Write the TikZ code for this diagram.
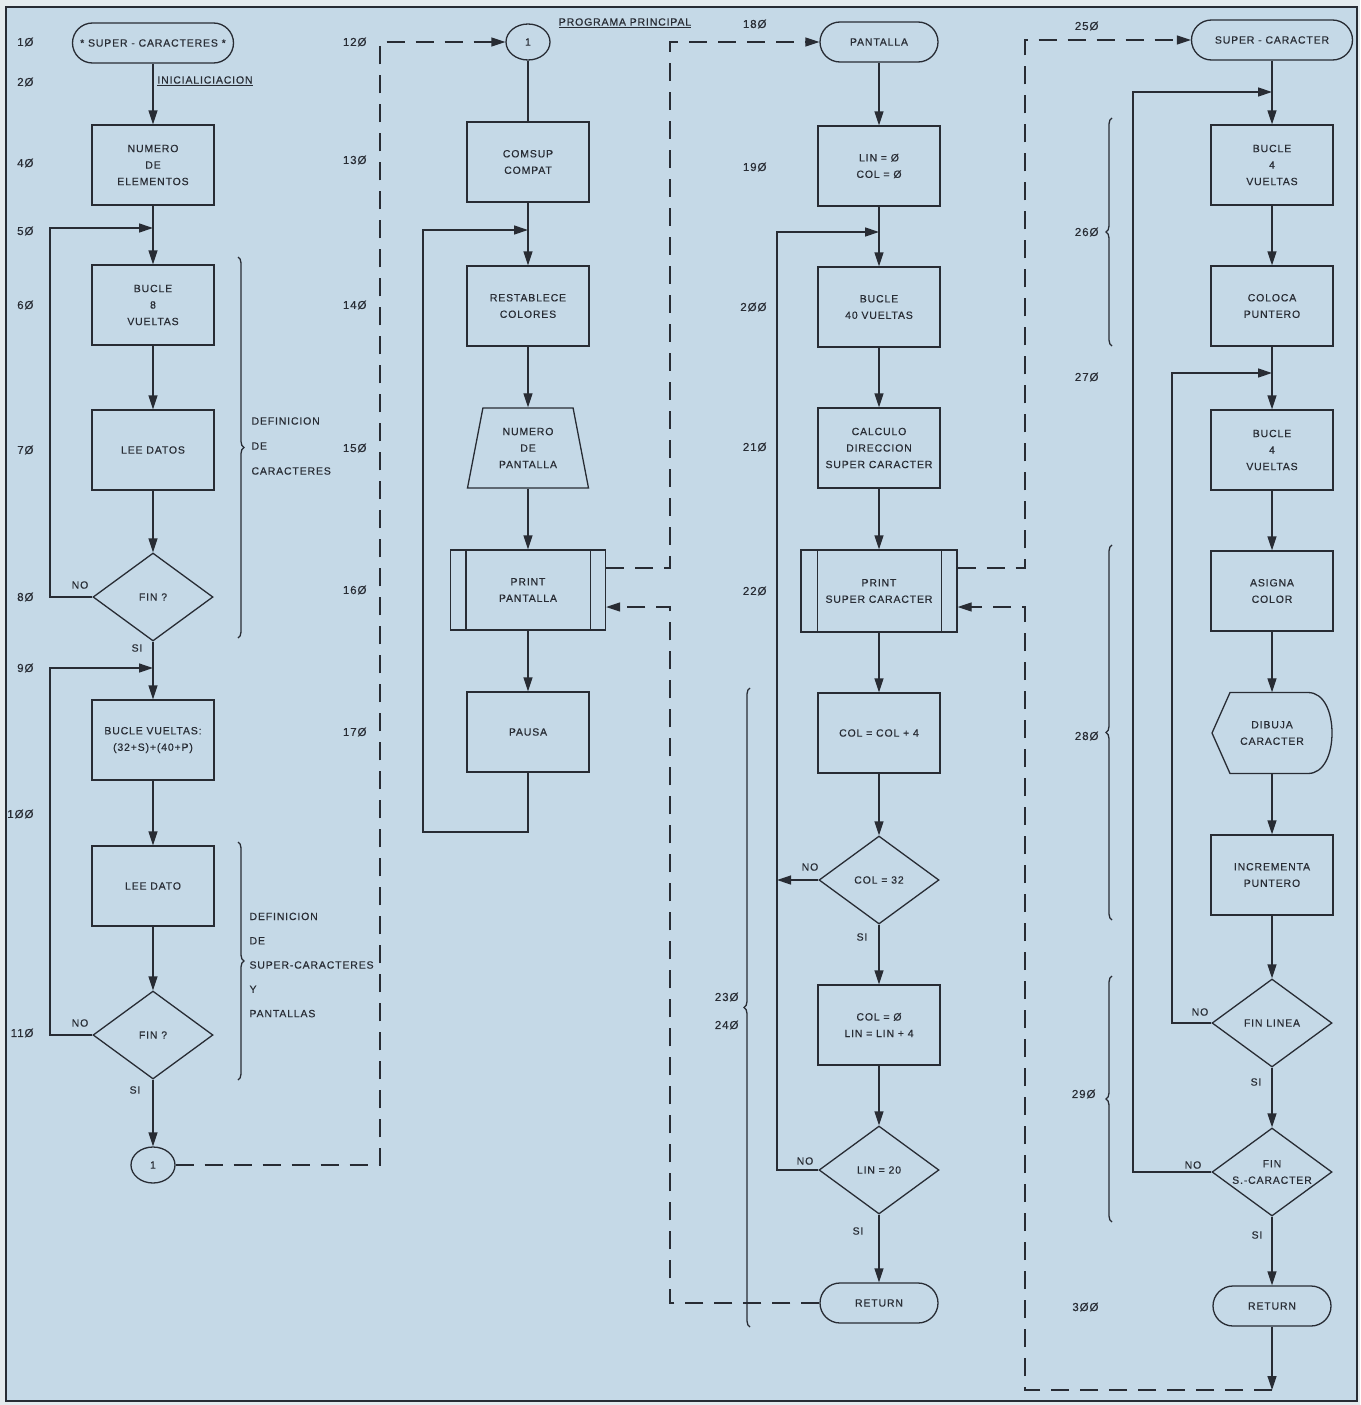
\documentclass[tikz,border=0pt]{standalone}
\usepackage{fontspec}
\setmainfont[LetterSpace=8, FakeBold=0.35]{Liberation Sans}
\usetikzlibrary{shapes.geometric,shapes.misc,arrows.meta,decorations.pathreplacing}
\definecolor{papel}{RGB}{197,217,231}
\definecolor{margen}{RGB}{228,235,238}
\definecolor{tinta}{RGB}{40,44,52}

\begin{document}
\begin{tikzpicture}[
        x=1pt, y=-1pt,
        every node/.style = {text=tinta, font=\fontsize{10.5}{16.5}\selectfont},
        caja/.style = {
            draw = tinta, line width = 1.3pt, rectangle,
            minimum width = 122pt, minimum height = 80pt,
            align = center, inner sep = 2pt
        },
        term/.style = {
            draw = tinta, line width = 1.3pt, rounded rectangle,
            minimum width = 122pt, minimum height = 40pt, inner sep = 2pt
        },
        decision/.style = {
            draw = tinta, line width = 1.3pt, diamond, aspect = 1.4,
            minimum width = 120pt, minimum height = 88pt,
            inner sep = 0pt, align = center
        },
        conector/.style = {
            draw = tinta, line width = 1.3pt, ellipse,
            minimum width = 44pt, minimum height = 36pt, inner sep = 0pt
        },
        num/.style = {anchor = east, font = \fontsize{11.5}{12}\selectfont},
        linea/.style = {draw = tinta, line width = 1.3pt},
        flecha/.style = {linea, -{Triangle[length=14pt,width=9pt]}},
        trazos/.style = {linea, dash pattern = on 18pt off 11pt},
        trazosf/.style = {trazos, -{Triangle[length=14pt,width=9pt]}},
        llave/.style = {linea, decorate, decoration = {brace, amplitude = 6pt}}
    ]
    \fill[margen] (0,0) rectangle (1360,1405);
    \filldraw[fill = papel, draw = tinta, line width = 2.5pt] (6,7) rectangle (1357,1401);
    \useasboundingbox (0,0) rectangle (1360,1405);

    \node[term, minimum width = 165pt] (inicio) at (153,43) {* SUPER - CARACTERES *};
    \node at (205,81) {\underline{INICIALICIACION}};
    \node[caja] (numelem) at (153,165) {NUMERO\\DE\\ELEMENTOS};
    \node[caja] (bucle8) at (153,305) {BUCLE\\8\\VUELTAS};
    \node[caja] (leedatos) at (153,450) {LEE DATOS};
    \node[decision] (fin1) at (153,597) {FIN ?};
    \node[caja] (buclevt) at (153,740) {BUCLE VUELTAS:\\(32+S)+(40+P)};
    \node[caja] (leedato) at (153,886) {LEE DATO};
    \node[decision] (fin2) at (153,1035) {FIN ?};
    \node[conector] (uno) at (153,1165) {1};

    \node[conector] (unob) at (528,42) {1};
    \node at (625,23) {\underline{PROGRAMA PRINCIPAL}};
    \node[caja] (comsup) at (528,162) {COMSUP\\COMPAT};
    \node[caja] (restab) at (528,306) {RESTABLECE\\COLORES};
    \node[
        draw = tinta, line width = 1.3pt, trapezium,
        trapezium left angle = 70, trapezium right angle = 70,
        trapezium stretches body = true,
        minimum width = 121pt, minimum height = 80pt,
        align = center, inner sep = 1pt
    ] (numpant) at (528,448) {NUMERO\\DE\\PANTALLA};
    \node[caja, minimum width = 155pt] (printpant) at (528,590) {PRINT\\PANTALLA};
    \draw[linea] ([xshift=16pt]printpant.north west) -- ([xshift=16pt]printpant.south west);
    \draw[linea] ([xshift=-16pt]printpant.north east) -- ([xshift=-16pt]printpant.south east);
    \node[caja] (pausa) at (528,732) {PAUSA};

    \node[term] (pantalla) at (879,42) {PANTALLA};
    \node[caja] (lincol) at (879,166) {LIN = Ø\\COL = Ø};
    \node[caja] (bucle40) at (879,307) {BUCLE\\40 VUELTAS};
    \node[caja] (calculo) at (879,448) {CALCULO\\DIRECCION\\SUPER CARACTER};
    \node[caja, minimum width = 156pt, minimum height = 82pt] (printsup) at (879,591) {PRINT\\SUPER CARACTER};
    \draw[linea] ([xshift=17pt]printsup.north west) -- ([xshift=17pt]printsup.south west);
    \draw[linea] ([xshift=-16pt]printsup.north east) -- ([xshift=-16pt]printsup.south east);
    \node[caja] (colmas) at (879,733) {COL = COL + 4};
    \node[decision] (col32) at (879,880) {COL = 32};
    \node[caja] (colcero) at (879,1025) {COL = Ø\\LIN = LIN + 4};
    \node[decision] (lin20) at (879,1170) {LIN = 20};
    \node[term] (retorno) at (879,1303) {RETURN};

    \node[term, minimum width = 165pt] (supercar) at (1272,40) {SUPER - CARACTER};
    \node[caja] (bucle4a) at (1272,165) {BUCLE\\4\\VUELTAS};
    \node[caja] (coloca) at (1272,306) {COLOCA\\PUNTERO};
    \node[caja] (bucle4b) at (1272,450) {BUCLE\\4\\VUELTAS};
    \node[caja] (asigna) at (1272,591) {ASIGNA\\COLOR};
    \node[minimum width = 120pt, minimum height = 81pt, align = center] (dibuja) at (1272,733) {DIBUJA\\CARACTER};
    \draw[linea] (1212,733) -- (1230,692.5) -- (1308,692.5)
        .. controls (1324,692.5) and (1332,712) .. (1332,733)
        .. controls (1332,754) and (1324,773.5) .. (1308,773.5) -- (1230,773.5) -- cycle;
    \node[caja] (incrementa) at (1272,875) {INCREMENTA\\PUNTERO};
    \node[decision] (finlinea) at (1272,1023) {FIN LINEA};
    \node[decision] (finsc) at (1272,1172) {FIN\\S.-CARACTER};
    \node[term] (retorno2) at (1272,1306) {RETURN};

    \coordinate (j50) at (153,228);
    \coordinate (j90) at (153,668);
    \coordinate (j130) at (528,230);
    \coordinate (j190) at (879,232);
    \coordinate (j220) at (777,880);
    \coordinate (j250) at (1272,92);
    \coordinate (j270) at (1272,373);
    \coordinate (fondo) at (1272,1390);

    \draw[flecha] (inicio.south) -- (numelem.north);
    \draw[flecha] (numelem) -- (bucle8);
    \draw[flecha] (bucle8) -- (leedatos);
    \draw[flecha] (leedatos) -- (fin1);
    \draw[flecha] (fin1) -- (buclevt);
    \draw[flecha] (fin1.west) -- (50,597) |- (j50);
    \draw[flecha] (buclevt) -- (leedato);
    \draw[flecha] (leedato) -- (fin2);
    \draw[flecha] (fin2) -- (uno);
    \draw[flecha] (fin2.west) -- (50,1035) |- (j90);
    \draw[trazosf] (uno) -- (380,1165) -- (380,42) -- (unob);

    \draw[linea] (unob) -- (comsup);
    \draw[flecha] (comsup) -- (restab);
    \draw[flecha] (restab) -- (numpant);
    \draw[flecha] (printpant.north |- numpant.south) -- (printpant.north);
    \draw[flecha] (printpant) -- (pausa);
    \draw[flecha] (pausa) -- (528,832) -- (423,832) |- (j130);
    \draw[trazosf] ([yshift=22pt]printpant.east) -- (670,568) -- (670,42) -- (pantalla);
    \draw[trazosf] (retorno) -- (670,1303) -- (670,607) -- ([yshift=-17pt]printpant.east);

    \draw[flecha] (pantalla.south) -- (lincol.north);
    \draw[flecha] (lincol) -- (bucle40);
    \draw[flecha] (bucle40) -- (calculo);
    \draw[flecha] (calculo) -- (printsup);
    \draw[flecha] (printsup) -- (colmas);
    \draw[flecha] (colmas) -- (col32);
    \draw[flecha] (col32) -- (j220);
    \draw[flecha] (col32) -- (colcero);
    \draw[flecha] (colcero) -- (lin20);
    \draw[flecha] (lin20.west) -- (777,1170) |- (j190);
    \draw[flecha] (lin20) -- (retorno);
    \draw[trazosf] ([yshift=23pt]printsup.east) -- (1025,568) -- (1025,40) -- (supercar);
    \draw[trazosf] (fondo) -- (1025,1390) -- (1025,607) -- ([yshift=-16pt]printsup.east);

    \draw[flecha] (supercar.south) -- (bucle4a.north);
    \draw[flecha] (bucle4a) -- (coloca);
    \draw[flecha] (coloca) -- (bucle4b);
    \draw[flecha] (bucle4b) -- (asigna);
    \draw[flecha] (asigna) -- (dibuja);
    \draw[flecha] (dibuja) -- (incrementa);
    \draw[flecha] (incrementa) -- (finlinea);
    \draw[flecha] (finlinea.west) -- (1172,1023) |- (j270);
    \draw[flecha] (finlinea) -- (finsc);
    \draw[flecha] (finsc.west) -- (1133,1172) |- (j250);
    \draw[flecha] (finsc) -- (retorno2);
    \draw[flecha] (retorno2) -- (fondo);

    \node at (80,585) {NO};
    \node at (137,648) {SI};
    \node at (80,1023) {NO};
    \node at (135,1090) {SI};
    \node at (810,867) {NO};
    \node at (862,937) {SI};
    \node at (805,1161) {NO};
    \node at (858,1231) {SI};
    \node at (1200,1012) {NO};
    \node at (1256,1082) {SI};
    \node at (1193,1165) {NO};
    \node at (1257,1235) {SI};

    \draw[llave] (238,257) -- (238,638);
    \node[anchor = west, align = left, font = \fontsize{10.5}{25}\selectfont] (defcar) at (248,446) {DEFINICION\\DE\\CARACTERES};
    \draw[llave] (238,842) -- (238,1080);
    \node[anchor = west, align = left, font = \fontsize{10.5}{24.3}\selectfont] (defsup) at (246,965) {DEFINICION\\DE\\SUPER-CARACTERES\\Y\\PANTALLAS};
    \draw[llave] (750,1327) -- (750,688);
    \draw[llave] (1112,346) -- (1112,118);
    \draw[llave] (1112,920) -- (1112,545);
    \draw[llave] (1112,1222) -- (1112,976);

    \node[num] at (37,42) {1Ø};
    \node[num] at (37,82) {2Ø};
    \node[num] at (37,163) {4Ø};
    \node[num] at (37,231) {5Ø};
    \node[num] at (37,305) {6Ø};
    \node[num] at (37,450) {7Ø};
    \node[num] at (37,597) {8Ø};
    \node[num] at (37,668) {9Ø};
    \node[num] at (37,814) {1ØØ};
    \node[num] at (37,1033) {11Ø};
    \node[num] at (370,42) {12Ø};
    \node[num] at (370,160) {13Ø};
    \node[num] at (370,305) {14Ø};
    \node[num] at (370,448) {15Ø};
    \node[num] at (370,590) {16Ø};
    \node[num] at (370,732) {17Ø};
    \node[num] at (770,24) {18Ø};
    \node[num] at (770,167) {19Ø};
    \node[num] at (770,307) {2ØØ};
    \node[num] at (770,447) {21Ø};
    \node[num] at (770,591) {22Ø};
    \node[num] at (742,997) {23Ø};
    \node[num] at (742,1025) {24Ø};
    \node[num] at (1102,26) {25Ø};
    \node[num] at (1102,232) {26Ø};
    \node[num] at (1102,377) {27Ø};
    \node[num] at (1102,736) {28Ø};
    \node[num] at (1099,1094) {29Ø};
    \node[num] at (1102,1307) {3ØØ};
\end{tikzpicture}
\end{document}
